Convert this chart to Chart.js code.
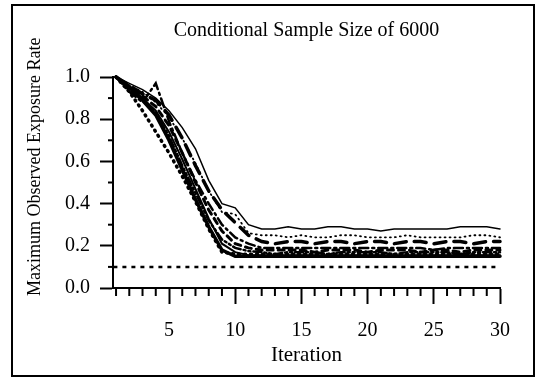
<!DOCTYPE html>
<html>
<head>
<meta charset="utf-8">
<script src="https://cdn.jsdelivr.net/npm/chart.js@4/dist/chart.umd.min.js"></script>
<style>
  body { margin: 0; background: #fff; }
  #wrap { position: relative; width: 544px; height: 379px; }
  #frame { position: absolute; left: 11px; top: 4px; width: 524px; height: 373px; border: 2px solid #000; box-sizing: border-box; pointer-events: none; }
</style>
</head>
<body>
<div id="wrap">
  <canvas id="grafico" width="544" height="379"></canvas>
  <div id="frame"></div>
</div>
<script>
// iteraciones 1..30
const iteraciones = [1,2,3,4,5,6,7,8,9,10,11,12,13,14,15,16,17,18,19,20,21,22,23,24,25,26,27,28,29,30];

const serieSolidaFina = [1.00,0.97,0.94,0.90,0.84,0.76,0.66,0.51,0.40,0.38,0.30,0.28,0.28,0.29,0.28,0.28,0.29,0.29,0.28,0.28,0.27,0.28,0.28,0.28,0.28,0.28,0.29,0.29,0.29,0.28];
const seriePunteadaFina = [1.00,0.96,0.93,0.88,0.81,0.71,0.59,0.46,0.36,0.35,0.26,0.25,0.25,0.24,0.25,0.24,0.24,0.25,0.25,0.24,0.24,0.24,0.25,0.24,0.24,0.24,0.24,0.25,0.25,0.24];
const serieGuionLargo = [1.00,0.96,0.92,0.89,0.82,0.71,0.58,0.46,0.37,0.31,0.25,0.22,0.21,0.22,0.22,0.21,0.22,0.22,0.21,0.22,0.22,0.21,0.22,0.22,0.21,0.22,0.22,0.21,0.22,0.22];
const serieGuionPunto = [1.00,0.93,0.88,0.97,0.79,0.64,0.51,0.40,0.30,0.24,0.21,0.19,0.19,0.19,0.19,0.19,0.19,0.19,0.19,0.19,0.19,0.19,0.19,0.19,0.18,0.19,0.19,0.19,0.19,0.19];
const serieGuionCorto = [1.00,0.95,0.91,0.86,0.77,0.64,0.50,0.37,0.27,0.21,0.19,0.18,0.18,0.18,0.18,0.17,0.18,0.18,0.18,0.17,0.18,0.18,0.18,0.17,0.18,0.18,0.17,0.18,0.18,0.18];
const serieGuionDosPuntos = [1.00,0.94,0.89,0.83,0.72,0.58,0.45,0.32,0.23,0.19,0.175,0.17,0.16,0.17,0.17,0.17,0.16,0.17,0.17,0.17,0.17,0.16,0.17,0.17,0.17,0.17,0.16,0.17,0.17,0.17];
const seriePunteadaGruesa = [1.00,0.93,0.84,0.74,0.64,0.53,0.41,0.28,0.17,0.16,0.16,0.16,0.16,0.16,0.16,0.16,0.16,0.16,0.16,0.16,0.16,0.16,0.16,0.16,0.16,0.16,0.16,0.16,0.16,0.16];
const serieSolidaGruesa = [1.00,0.95,0.89,0.82,0.70,0.56,0.42,0.29,0.18,0.15,0.15,0.15,0.15,0.15,0.15,0.15,0.15,0.15,0.15,0.15,0.15,0.15,0.15,0.15,0.15,0.15,0.15,0.15,0.15,0.15];
const serieSolidaMedia = [1.00,0.96,0.90,0.84,0.74,0.61,0.47,0.33,0.21,0.17,0.155,0.155,0.155,0.155,0.155,0.155,0.155,0.155,0.155,0.155,0.155,0.155,0.155,0.155,0.155,0.155,0.155,0.155,0.155,0.155];

// linea de referencia (limite 0.1)
const referenciaX = [0.8, 30];
const referenciaY = [0.1, 0.1];

const ticksY = [0,0.1,0.2,0.3,0.4,0.5,0.6,0.7,0.8,0.9,1.0];

const fuente = "'Liberation Serif', 'Times New Roman', serif";

function puntos(xs, ys) {
    return xs.map((x, i) => ({ x: x, y: ys[i] }));
}

function serie(valores, ancho, guion) {
    return {
        data: puntos(iteraciones, valores),
        borderColor: "#000",
        borderWidth: ancho,
        borderDash: guion,
        borderCapStyle: "round",
        pointRadius: 0,
        tension: 0,
        fill: false,
        clip: false
    };
}

// marcas menores de los ejes (las mayores las dibuja Chart.js)
const marcasMenores = {
    id: "marcasMenores",
    afterDraw(chart) {
        const ctx = chart.ctx;
        const sx = chart.scales.x;
        const sy = chart.scales.y;
        ctx.save();
        ctx.strokeStyle = "#000";
        ctx.lineWidth = 2;
        iteraciones.forEach(v => {
            if (v % 5 === 0) return;
            const px = sx.getPixelForValue(v);
            ctx.beginPath();
            ctx.moveTo(px, sx.top);
            ctx.lineTo(px, sx.top + 8);
            ctx.stroke();
        });
        ticksY.forEach(v => {
            if (Math.round(v * 10) % 2 === 0) return;
            const py = sy.getPixelForValue(v);
            ctx.beginPath();
            ctx.moveTo(sy.right, py);
            ctx.lineTo(sy.right - 5, py);
            ctx.stroke();
        });
        ctx.restore();
    }
};

const ctx = document.getElementById("grafico").getContext("2d");

new Chart(ctx, {
    type: "line",
    data: {
        datasets: [
            serie(serieSolidaFina, 1.5, []),
            serie(seriePunteadaFina, 1.8, [1, 4]),
            serie(serieGuionLargo, 3.5, [12, 8]),
            serie(serieGuionPunto, 2.5, [9, 4, 2, 4]),
            serie(serieGuionCorto, 3, [6, 5]),
            serie(serieGuionDosPuntos, 2.5, [8, 3, 2, 3, 2, 3]),
            serie(seriePunteadaGruesa, 3.5, [1, 5]),
            serie(serieSolidaGruesa, 3.5, []),
            serie(serieSolidaMedia, 2, []),
            {
                data: puntos(referenciaX, referenciaY),
                borderColor: "#000",
                borderWidth: 2.5,
                borderDash: [4, 5],
                pointRadius: 0,
                fill: false,
                clip: false
            }
        ]
    },
    options: {
        responsive: false,
        animation: false,
        layout: { padding: { left: 0, right: 44, top: 0, bottom: 0 } },
        plugins: {
            legend: { display: false },
            tooltip: { enabled: false },
            title: { display: false }
        },
        scales: {
            // eje superior solo para el titulo, centrado sobre el area del grafico
            xTop: {
                type: "linear",
                position: "top",
                min: 0.77,
                max: 30,
                afterFit: s => { s.height = 77; },
                border: { display: false },
                grid: { display: false },
                ticks: { display: false },
                title: {
                    display: true,
                    text: "Conditional Sample Size of 6000",
                    color: "#000",
                    font: { family: fuente, size: 20, weight: "normal" },
                    padding: { top: 19, bottom: 0 }
                }
            },
            x: {
                type: "linear",
                min: 0.77,
                max: 30,
                afterFit: s => { s.height = 91; },
                afterBuildTicks: s => { s.ticks = [5, 10, 15, 20, 25, 30].map(v => ({ value: v })); },
                border: { display: true, color: "#000", width: 2 },
                grid: { drawOnChartArea: false, color: "#000", tickLength: 16, tickWidth: 2 },
                ticks: {
                    color: "#000",
                    font: { family: fuente, size: 20 },
                    padding: 15,
                    maxRotation: 0,
                    autoSkip: false
                },
                title: {
                    display: true,
                    text: "Iteration",
                    color: "#000",
                    font: { family: fuente, size: 21 },
                    padding: { top: 0, bottom: 11 }
                }
            },
            y: {
                min: 0,
                max: 1,
                afterFit: s => { s.width = 113; },
                afterBuildTicks: s => { s.ticks = [0, 0.2, 0.4, 0.6, 0.8, 1.0].map(v => ({ value: v })); },
                border: { display: true, color: "#000", width: 2 },
                grid: { drawOnChartArea: false, color: "#000", tickLength: 13, tickWidth: 2 },
                ticks: {
                    color: "#000",
                    font: { family: fuente, size: 20 },
                    padding: 10,
                    callback: v => v.toFixed(1)
                },
                title: {
                    display: true,
                    text: "\u00a0\u00a0\u00a0\u00a0\u00a0\u00a0\u00a0Maximum Observed Exposure Rate",
                    color: "#000",
                    font: { family: fuente, size: 18 },
                    padding: { top: 24, bottom: 0 }
                }
            }
        }
    },
    plugins: [marcasMenores]
});

console.log("Grafico dibujado.");
</script>
</body>
</html>
